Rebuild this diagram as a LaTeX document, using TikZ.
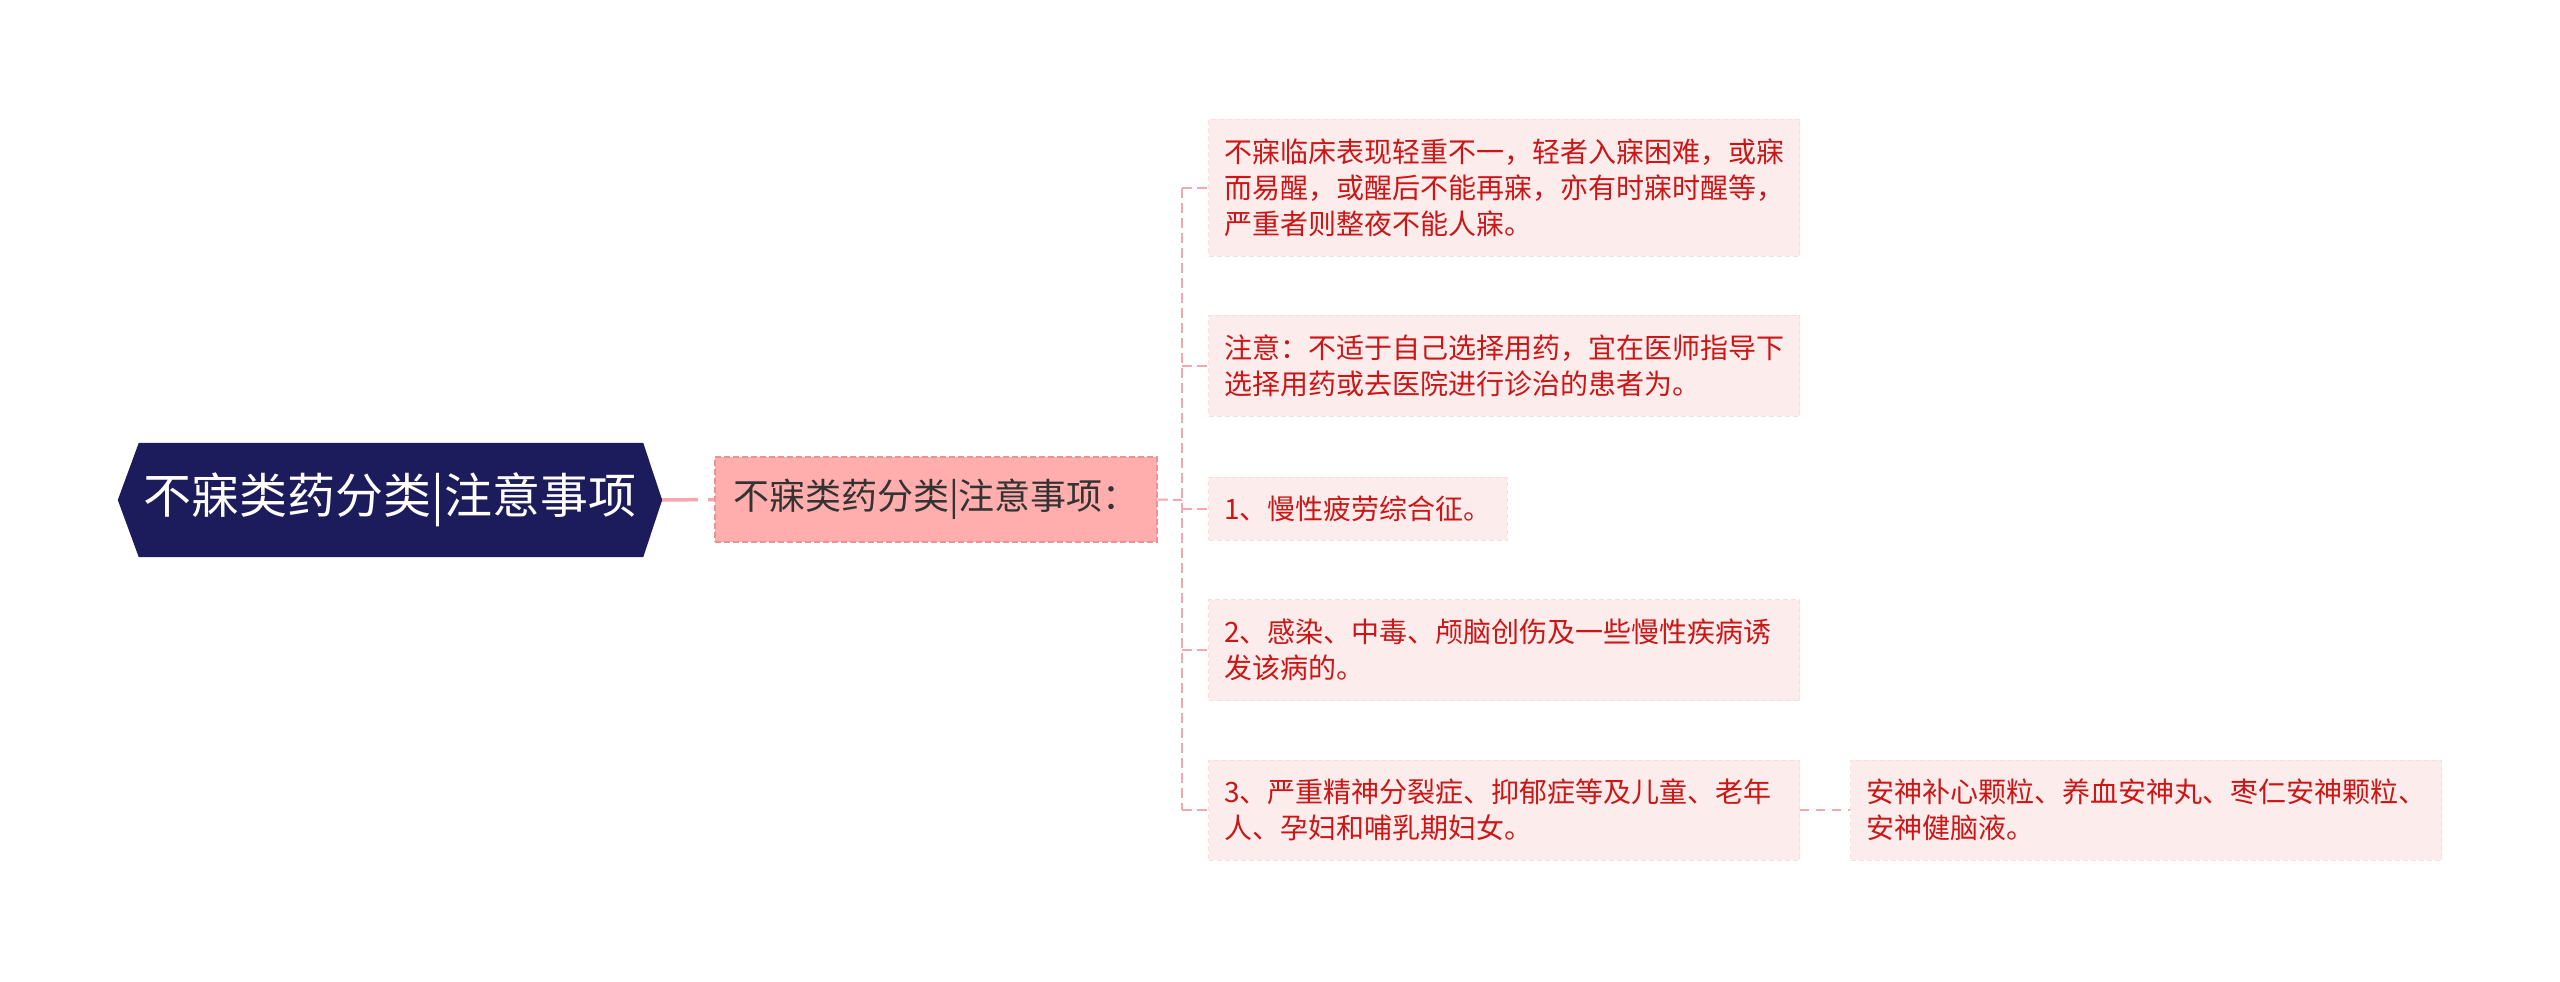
\documentclass[tikz,border=0pt]{standalone}
\usepackage{fontspec}
\setmainfont{Noto Sans CJK SC}
\usetikzlibrary{backgrounds}
\definecolor{navy}{RGB}{28,27,91}
\definecolor{salmon}{RGB}{255,173,173}
\definecolor{salmonedge}{RGB}{238,145,145}
\definecolor{lightpink}{RGB}{253,236,236}
\definecolor{lightedge}{RGB}{250,222,222}
\definecolor{redtext}{RGB}{204,22,22}
\definecolor{conn}{RGB}{242,168,174}
\definecolor{darktext}{RGB}{51,51,51}
\tikzset{
  rootbox/.style={minimum width=544pt, minimum height=114pt, inner sep=0pt, text=white,
    font=\fontsize{48}{58}\selectfont},
  levelone/.style={fill=salmon, draw=salmonedge, line width=1.5pt, dash pattern=on 6pt off 3pt,
    minimum width=442pt, minimum height=85pt, inner sep=0pt, text=darktext,
    font=\fontsize{36}{42}\selectfont},
  leaf/.style={fill=lightpink, draw=lightedge, line width=1pt, dash pattern=on 5pt off 3pt,
    anchor=west, inner xsep=15.5pt, inner ysep=0pt, align=left, text=redtext,
    font=\fontsize{28}{36}\selectfont},
  wideleaf/.style={leaf, text width=560pt},
  rootlink/.style={draw=conn, line width=3.5pt, dash pattern=on 36pt off 10pt},
  spine/.style={draw=conn, line width=2pt, dash pattern=on 10pt off 5pt},
}
\begin{document}
\begin{tikzpicture}[x=1pt,y=-1pt]
\useasboundingbox (0,0) rectangle (2560,982);

\node[rootbox] (root) at (390,500) {不寐类药分类|注意事项};
\begin{scope}[on background layer]
\fill[white] (0,0) rectangle (2560,982);
\fill[navy] (root.west) -- ([xshift=21pt]root.north west) -- ([xshift=-19pt]root.north east)
  -- (root.east) -- ([xshift=-19pt]root.south east) -- ([xshift=21pt]root.south west) -- cycle;
\end{scope}

\node[levelone] (L1) at (936,499.5) {不寐类药分类|注意事项：};

\node[wideleaf, minimum height=137pt] (c1) at (1208,187.5)
  {不寐临床表现轻重不一，轻者入寐困难，或寐\\而易醒，或醒后不能再寐，亦有时寐时醒等，\\严重者则整夜不能人寐。};
\node[wideleaf, minimum height=101pt] (c2) at (1208,365.5)
  {注意：不适于自己选择用药，宜在医师指导下\\选择用药或去医院进行诊治的患者为。};
\node[leaf, minimum height=63pt] (c3) at (1208,508.5)
  {1、慢性疲劳综合征。};
\node[wideleaf, minimum height=101pt] (c4) at (1208,650)
  {2、感染、中毒、颅脑创伤及一些慢性疾病诱\\发该病的。};
\node[wideleaf, minimum height=100pt] (c5) at (1208,810)
  {3、严重精神分裂症、抑郁症等及儿童、老年\\人、孕妇和哺乳期妇女。};
\node[wideleaf, minimum height=100pt] (g) at (1850,810)
  {安神补心颗粒、养血安神丸、枣仁安神颗粒、\\安神健脑液。};

\coordinate (sp) at (1182,500);
\draw[rootlink] (root.east) -- (L1.west);
\draw[spine] (L1.east) -- (sp);
\draw[spine] (sp |- c1.west) -- (sp |- c5.west);
\foreach \c in {c1,c2,c3,c4,c5} {
  \draw[spine] (sp |- \c.west) -- (\c.west);
}
\draw[spine, dash pattern=on 9pt off 7pt] (c5.east) -- (g.west);
\end{tikzpicture}
\end{document}
